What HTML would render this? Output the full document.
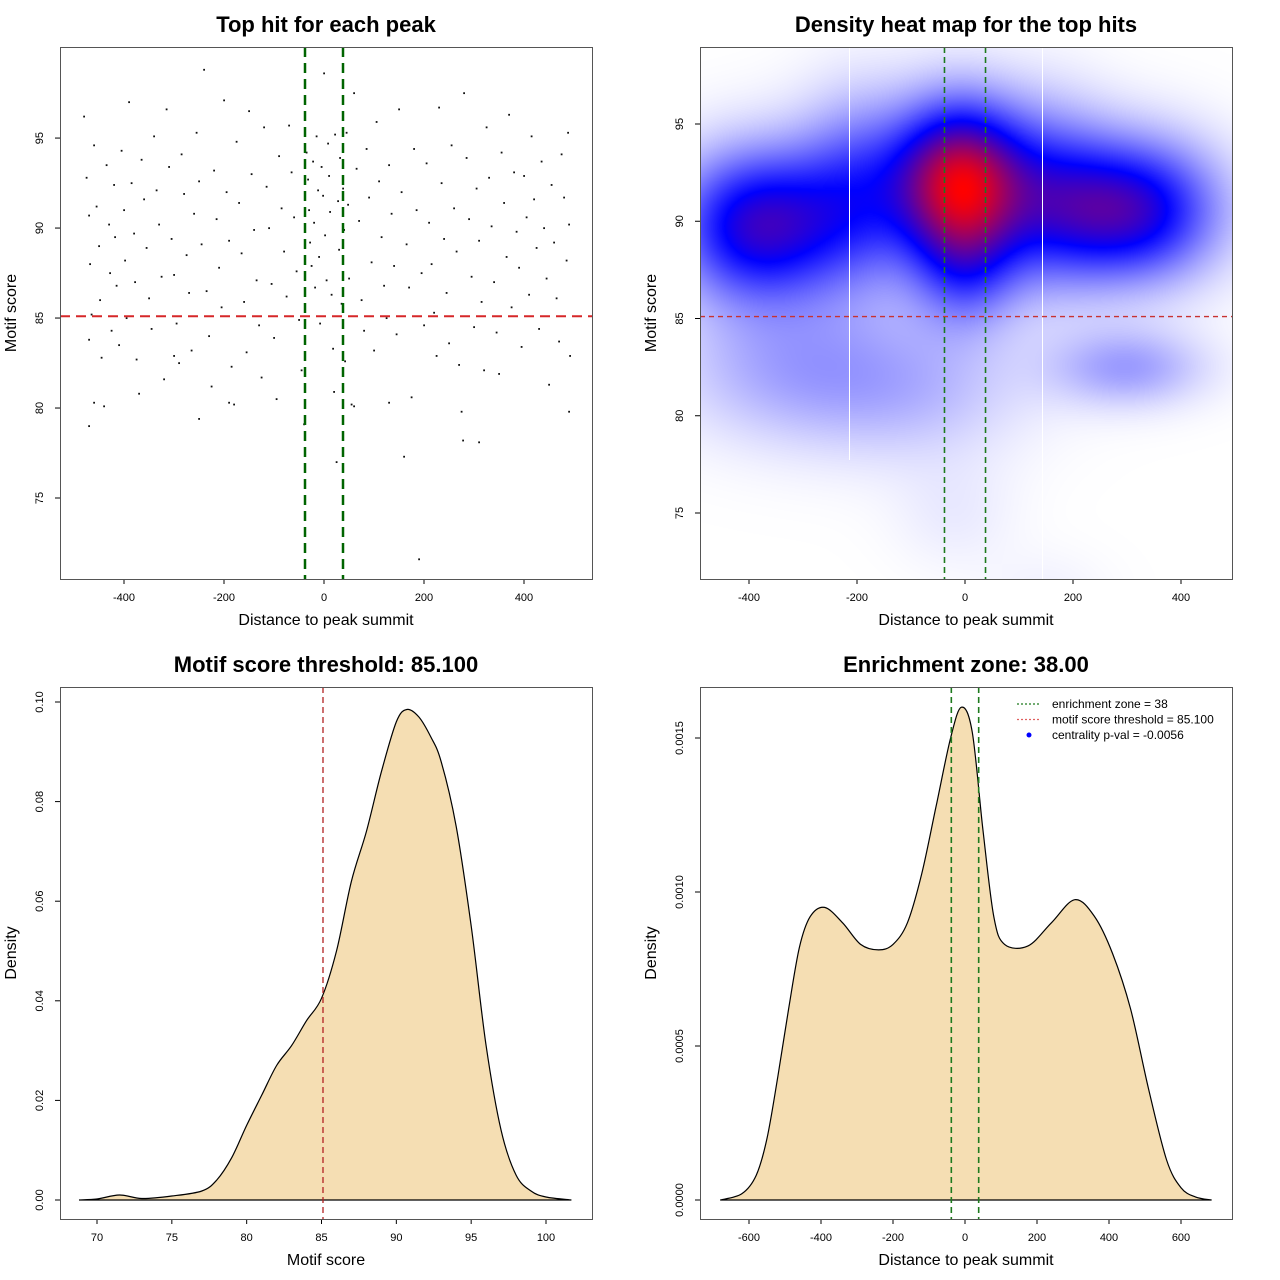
<!DOCTYPE html>
<html><head><meta charset="utf-8">
<style>
html,body{margin:0;padding:0;background:#fff;}
#wrap{position:relative;width:1280px;height:1280px;}
#heat{position:absolute;left:700px;top:47px;}
svg{position:absolute;left:0;top:0;}
text{font-family:"Liberation Sans",sans-serif;fill:#000;}
.t{font-size:22px;font-weight:bold;}
.al{font-size:16px;}
.tk{font-size:11px;}
</style></head>
<body>
<div id="wrap">
<canvas id="heat" width="532" height="532"></canvas>
<svg id="s" width="1280" height="1280"></svg>
</div>
<script>
// ---- Panel 1 data: scatter of top hits (distance, score)
const scatterX=[-480,-475,-470,-468,-465,-470,-460,-455,-450,-448,-445,-440,-435,-430,-428,-425,-420,-418,-415,-410,-405,-400,-398,-395,-390,-385,-380,-378,-375,-370,-365,-360,-355,-350,-345,-340,-335,-330,-325,-320,-315,-310,-305,-300,-295,-290,-285,-280,-275,-270,-265,-260,-255,-250,-245,-240,-235,-230,-225,-220,-215,-210,-205,-200,-195,-190,-185,-180,-175,-170,-165,-160,-155,-150,-145,-140,-135,-130,-125,-120,-115,-110,-105,-100,-95,-90,-85,-80,-75,-70,-65,-60,-55,-50,-45,-40,-38,-35,-32,-30,-28,-25,-22,-20,-18,-15,-12,-10,-8,-5,-2,0,2,5,8,10,12,15,18,20,22,25,28,30,32,35,38,40,42,45,48,50,55,60,65,70,75,80,85,90,95,100,105,110,115,120,125,130,135,140,145,150,155,160,165,170,175,180,185,190,195,200,205,210,215,220,225,230,235,240,245,250,255,260,265,270,275,280,285,290,295,300,305,310,315,320,325,330,335,340,345,350,355,360,365,370,375,380,385,390,395,400,405,410,415,420,425,430,435,440,445,450,455,460,465,470,475,480,485,488,490,492,490,278,-470,-460,-250,310,130,-300,-190,60];
const scatterY=[96.2,92.8,90.7,88,85.2,83.8,94.6,91.2,89,86,82.8,80.1,93.5,90.2,87.5,84.3,92.4,89.5,86.8,83.5,94.3,91,88.2,85,97,92.5,89.7,87,82.7,80.8,93.8,91.6,88.9,86.1,84.4,95.1,92.1,90.2,87.3,81.6,96.6,93.4,89.4,87.4,84.7,82.5,94.1,91.9,88.5,86.4,83.2,90.8,95.3,92.6,89.1,98.8,86.5,84,81.2,93.2,90.5,87.8,85.6,97.1,92,89.3,82.3,80.2,94.8,91.4,88.6,85.9,83.1,96.5,93,89.9,87.1,84.6,81.7,95.6,92.3,90,86.9,83.9,80.5,94,91.1,88.7,86.2,95.7,93.1,90.6,87.6,84.9,82.1,79.1,96.4,94.2,92.7,91,89.2,87.9,93.7,90.3,86.7,95.1,92.1,88.4,84.7,93.4,91.8,98.6,89.6,87.1,94.7,92.9,90.9,86.3,83.3,80.9,95.2,77,91.5,88.8,93.9,85.8,92.2,89.9,82.6,95.3,91.3,87.2,80.2,97.5,93.3,90.4,86,84.3,94.4,91.7,88.1,83.2,95.9,92.6,89.5,86.8,85,93.5,90.8,87.9,84.1,96.6,92,77.3,89.1,86.7,80.6,94.4,91,71.6,87.5,84.6,93.6,90.3,88,85.3,82.9,96.7,92.5,89.4,86.4,83.6,94.6,91.1,88.7,82.4,79.8,97.5,93.9,90.5,87.3,84.5,92.2,89.3,85.9,82.1,95.6,92.8,90.1,87,84.2,81.9,94.2,91.4,88.4,96.3,85.6,93.1,89.8,87.8,83.4,92.9,90.6,86.3,95.1,91.6,88.9,84.4,93.7,90,87.2,81.3,92.4,89.2,86.1,83.7,94.1,91.7,88.2,95.3,90.2,82.9,79.8,78.2,79,80.3,79.4,78.1,80.3,82.9,80.3,80.1];
const p1XTicks=[-400,-200,0,200,400];
const p1YTicks=[75,80,85,90,95];
const threshold=[85.1];
const zone=[-38,38];
// ---- Panel 2 data: density blobs
const blobX=[-10,-380,305,-200,160,0,-330,300,-100,-20,150];
const blobY=[92,89.8,90.6,91.5,91.3,87.5,82.5,82.5,81.5,75,71];
const blobSX=[85,110,112,80,80,70,150,100,150,80,80];
const blobSY=[2.8,2.7,2.5,3.3,3.2,2.2,2.6,1.4,2.6,2,1.5];
const blobW=[0.72,0.47,0.47,0.24,0.22,0.2,0.12,0.15,0.1,0.03,0.02];
const p2XTicks=[-400,-200,0,200,400];
const p2YTicks=[75,80,85,90,95];
// ---- Panel 3 data: motif score density
const scoreX=[68.8,70,71.5,73,75,77,78,79,80,81,82,83,84,85,86,87,88,89,90,90.7,91.5,92.3,93,94,95,96,97,98,99,100,101.7];
const scoreD=[0,0.0002,0.001,0.0003,0.0008,0.0018,0.004,0.0085,0.015,0.021,0.027,0.031,0.036,0.0405,0.05,0.064,0.074,0.086,0.096,0.0985,0.097,0.093,0.088,0.075,0.055,0.031,0.014,0.005,0.0018,0.0006,0];
const p3XTicks=[70,75,80,85,90,95,100];
const p3YTicks=[0,0.02,0.04,0.06,0.08,0.10];
const p3YLabels=["0.00","0.02","0.04","0.06","0.08","0.10"];
// ---- Panel 4 data: distance density
const distX=[-680,-620,-580,-550,-520,-490,-460,-430,-390,-340,-290,-240,-200,-160,-120,-80,-40,-10,20,50,80,110,175,240,305,360,410,460,510,560,600,640,685];
const distD=[0,0.00002,0.00008,0.0002,0.0004,0.00062,0.00082,0.00092,0.00095,0.0009,0.00083,0.000812,0.00083,0.0009,0.00106,0.00128,0.0015,0.0016,0.00152,0.0012,0.00092,0.00083,0.000825,0.0009,0.000975,0.00092,0.0008,0.00062,0.00036,0.00013,0.00004,0.00001,0];
const p4XTicks=[-600,-400,-200,0,200,400,600];
const p4YTicks=[0,0.0005,0.001,0.0015];
const p4YLabels=["0.0000","0.0005","0.0010","0.0015"];

const NS="http://www.w3.org/2000/svg";
const svg=document.getElementById('s');
function el(tag,attrs,parent,txt){const e=document.createElementNS(NS,tag);for(const k in attrs)e.setAttribute(k,attrs[k]);if(txt!==undefined)e.textContent=txt;(parent||svg).appendChild(e);return e;}
function lin(d0,d1,r0,r1){return v=>r0+(v-d0)/(d1-d0)*(r1-r0);}
function smooth(pts){let d=`M${pts[0][0].toFixed(1)},${pts[0][1].toFixed(1)}`;
  for(let i=0;i<pts.length-1;i++){const p0=pts[Math.max(0,i-1)],p1=pts[i],p2=pts[i+1],p3=pts[Math.min(pts.length-1,i+2)];
    const c1=[p1[0]+(p2[0]-p0[0])/6,p1[1]+(p2[1]-p0[1])/6],c2=[p2[0]-(p3[0]-p1[0])/6,p2[1]-(p3[1]-p1[1])/6];
    d+=` C${c1[0].toFixed(1)},${c1[1].toFixed(1)} ${c2[0].toFixed(1)},${c2[1].toFixed(1)} ${p2[0].toFixed(1)},${p2[1].toFixed(1)}`;}
  return d;}

function frame(name,L,T,title,xlab,ylab,xs,ys,xT,yT,yLab){
  const g=el('g',{});
  
  
  const tt=el('text',{x:L+266,y:T-15,'text-anchor':'middle',class:'t'},g,title);
  
  
  const B=T+532;
  xT.forEach(v=>{const x=xs(v);el('line',{x1:x,y1:B,x2:x,y2:B+5,stroke:'#000'},g);
    const t=el('text',{x:x,y:B+22,'text-anchor':'middle',class:'tk'},g,String(v));
    
    });
  yT.forEach((v,i)=>{const y=ys(v);el('line',{x1:L,y1:y,x2:L-5,y2:y,stroke:'#000'},g);
    const t=el('text',{x:L-17,y:y,'text-anchor':'middle',class:'tk',transform:`rotate(-90 ${L-17} ${y})`},g,yLab?yLab[i]:String(v));
    
    });
  const xl=el('text',{x:L+266,y:B+46,'text-anchor':'middle',class:'al'},g,xlab);
  
  
  const yl=el('text',{x:L-44,y:T+266,'text-anchor':'middle',class:'al',transform:`rotate(-90 ${L-44} ${T+266})`},g,ylab);
  
  
  return g;
}
function box(L,T){const r=el('rect',{x:L+0.5,y:T+0.5,width:532,height:532,fill:'none',stroke:'#555','stroke-width':1});
  }

// Panel 1
{const L=60,T=47;const xs=lin(-528,536,L,L+532),ys=lin(70.5,100.06,T+532,T);
 const g=frame('scatter-panel',L,T,'Top hit for each peak','Distance to peak summit','Motif score',xs,ys,p1XTicks,p1YTicks);
 scatterX.forEach((xv,i)=>{const p=el('rect',{x:xs(xv)-0.8,y:ys(scatterY[i])-0.8,width:1.8,height:1.8,fill:'#111'},g);
   
   });
 const h=el('line',{x1:L,x2:L+532,y1:ys(threshold[0]),y2:ys(threshold[0]),stroke:'#d62728','stroke-width':2,'stroke-dasharray':'10,6'},g);
 
 zone.forEach(z=>{const v=el('line',{x1:xs(z),x2:xs(z),y1:T,y2:T+532,stroke:'#006400','stroke-width':2.5,'stroke-dasharray':'10,6'},g);
   });
 box(L,T);}

// Panel 2
{const L=700,T=47;const xs=lin(-500,500,749-54,749+486),ys=lin(75,95,513,124);
 const cv=document.getElementById('heat'),ctx=cv.getContext('2d'),img=ctx.createImageData(532,532);
 const xi=px=>-500+((px+L)-(749-54))/540*1000, yi=py=>75+(513-(py+T))/(513-124)*20;
 const vals=new Float32Array(532*532);let mx=0;
 for(let j=0;j<532;j++){const yv=yi(j);for(let i=0;i<532;i++){const xv=xi(i);let s=0;
   for(let k=0;k<blobX.length;k++){const dx=(xv-blobX[k])/blobSX[k],dy=(yv-blobY[k])/blobSY[k];s+=blobW[k]*Math.exp(-0.5*(dx*dx+dy*dy));}
   vals[j*532+i]=s;if(s>mx)mx=s;}}
 for(let n=0;n<vals.length;n++){let t=Math.min(1,vals[n]/mx);let r,gg,b;
   if(t<0.5){const u=t*2;r=255*(1-u);gg=255*(1-u);b=255;}else{const u=(t-0.5)*2;r=255*u;gg=0;b=255*(1-u);}
   img.data[n*4]=r;img.data[n*4+1]=gg;img.data[n*4+2]=b;img.data[n*4+3]=255;}
 ctx.putImageData(img,0,0);
 const g=frame('heatmap-panel',L,T,'Density heat map for the top hits','Distance to peak summit','Motif score',xs,ys,p2XTicks,p2YTicks);
 const w1=el('line',{x1:849.5,x2:849.5,y1:T,y2:460,stroke:'#fff','stroke-width':1},g);
 
 const w2=el('line',{x1:1042.5,x2:1042.5,y1:T,y2:T+532,stroke:'#fff','stroke-width':1},g);
 
 const h=el('line',{x1:L,x2:L+532,y1:ys(threshold[0]),y2:ys(threshold[0]),stroke:'#c83232','stroke-width':1.3,'stroke-dasharray':'5,4'},g);
 
 zone.forEach(z=>{const v=el('line',{x1:xs(z),x2:xs(z),y1:T,y2:T+532,stroke:'#1e7a1e','stroke-width':1.6,'stroke-dasharray':'6,4'},g);
   });
 box(L,T);}

// Panel 3
{const L=60,T=687;const xs=lin(70,100,97,546),ys=lin(0,0.1,1200,702);
 const g=frame('score-density-panel',L,T,'Motif score threshold: 85.100','Motif score','Density',xs,ys,p3XTicks,p3YTicks,p3YLabels);
 const d=smooth(scoreX.map((v,i)=>[xs(v),ys(scoreD[i])]));
 const a=el('path',{d:d+' Z',fill:'#f5deb3',stroke:'#000','stroke-width':1.2},g);
 
 const v=el('line',{x1:xs(threshold[0]),x2:xs(threshold[0]),y1:T,y2:T+532,stroke:'#b22222','stroke-width':1.3,'stroke-dasharray':'6,4'},g);
 
 box(L,T);}

// Panel 4
{const L=700,T=687;const xs=lin(-600,600,749,1181),ys=lin(0,0.0015,1200,738);
 const g=frame('distance-density-panel',L,T,'Enrichment zone: 38.00','Distance to peak summit','Density',xs,ys,p4XTicks,p4YTicks,p4YLabels);
 const d=smooth(distX.map((v,i)=>[xs(v),ys(distD[i])]));
 const a=el('path',{d:d+' Z',fill:'#f5deb3',stroke:'#000','stroke-width':1.2},g);
 
 zone.forEach(z=>{const v=el('line',{x1:xs(z),x2:xs(z),y1:T,y2:T+532,stroke:'#1e7a1e','stroke-width':1.6,'stroke-dasharray':'6,4'},g);
   });
 const lg=el('g',{},g);
 
 const items=[['enrichment zone = 38','#1e7a1e','line'],['motif score threshold = 85.100','#e06060','line'],['centrality p-val = -0.0056','#0000ff','dot']];
 items.forEach((it,i)=>{const y=704+i*15.5;
   if(it[2]==='line'){el('line',{x1:1017,x2:1041,y1:y,y2:y,stroke:it[1],'stroke-width':1.2,'stroke-dasharray':'2,2'},lg);}
   else{el('circle',{cx:1029,cy:y,r:2.5,fill:it[1]},lg);}
   const t=el('text',{x:1052,y:y+4,class:'tk',style:'font-size:12px'},lg,it[0]);
   });
 box(L,T);}
</script>
</body></html>
